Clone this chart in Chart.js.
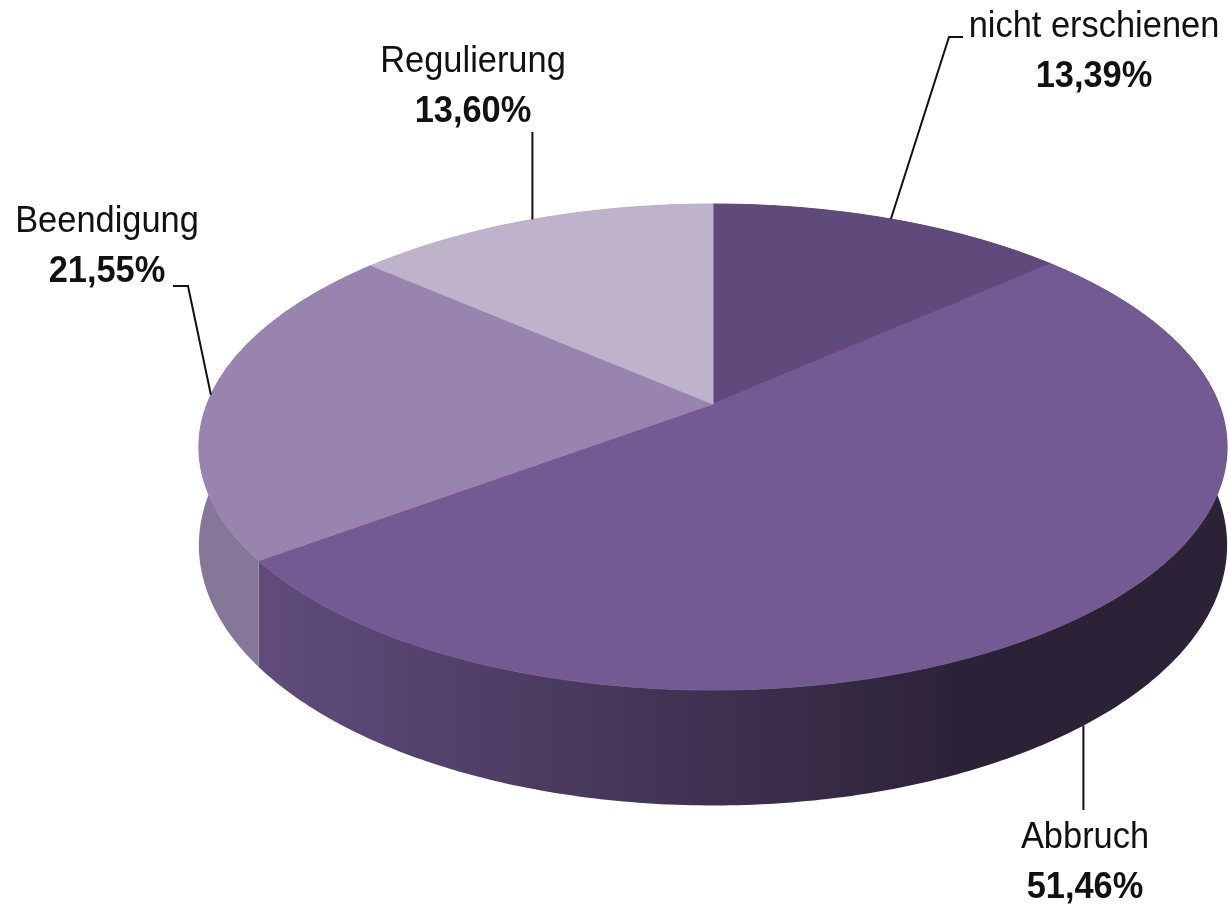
<!DOCTYPE html>
<html>
<head>
<meta charset="utf-8">
<script src="https://cdn.jsdelivr.net/npm/chart.js@4.4.1/dist/chart.umd.min.js"></script>
<style>
    html, body { margin: 0; padding: 0; background: #fff; }
    #wrap { width: 1228px; height: 906px; }
</style>
</head>
<body>
<div id="wrap"><canvas id="pieChart" width="1228" height="906"></canvas></div>
<script>
// Chart data
const categories = ['nicht erschienen', 'Abbruch', 'Beendigung', 'Regulierung'];
const shares = [13.39, 51.46, 21.55, 13.60];

// Colours: top face, side (left end / right end of the shading)
const topColors = ['#604a7b', '#745a93', '#9884ae', '#bfb3cc'];
const sideLeft = ['#4b3a61', '#614c7c', '#867799', '#9a8fab'];
const sideRight = ['#2c2238', '#2c2238', '#7c6e91', '#9a8fab'];

// Label placement: text centre x, first baseline, leader points after the anchor
const labelSpots = [
    { x: 1094, y: 37, path: [[949, 37], [963, 37]] },
    { x: 1085, y: 848, path: [[null, 810]] },
    { x: 107, y: 232, path: [[188, 286], [173, 286]] },
    { x: 473, y: 72, path: [[null, 132]] }
];

// Perspective view of the disc
const view = { cx: 713, cy: 404, radius: 506, tilt: 235.4, persp: 0.177, depth: 95 };

// theta measured from 12 o'clock, clockwise; drop 0 = top rim, 1 = bottom rim
function project(theta, drop) {
    const x = Math.sin(theta);
    const z = -Math.cos(theta);
    const den = 1 - view.persp * z;
    return [
        view.cx + view.radius * x / den,
        view.cy + (view.tilt * z + drop * view.depth) / den
    ];
}

function rimPoints(a, b, drop) {
    const steps = Math.max(8, Math.ceil((b - a) * 80));
    const pts = [];
    for (let s = 0; s <= steps; s++) {
        pts.push(project(a + (b - a) * s / steps, drop));
    }
    return pts;
}

function tracePath(ctx, pts) {
    ctx.beginPath();
    pts.forEach((p, j) => j ? ctx.lineTo(p[0], p[1]) : ctx.moveTo(p[0], p[1]));
    ctx.closePath();
}

function formatShare(v) {
    return v.toFixed(2).replace('.', ',') + '%';
}

// narrow-ish text like the original (Arial squeezed a bit)
function drawNarrowText(ctx, text, x, y, font) {
    ctx.save();
    ctx.font = font;
    ctx.translate(x, y);
    ctx.scale(0.93, 1);
    ctx.fillText(text, 0, 0);
    ctx.restore();
}

const pie3d = {
    id: 'pie3d',
    beforeDatasetsDraw(chart) {
        const ctx = chart.ctx;
        const arcs = chart.getDatasetMeta(0).data;
        ctx.save();

        // outer walls first
        arcs.forEach((arc, i) => {
            const a = arc.startAngle + Math.PI / 2;
            const b = arc.endAngle + Math.PI / 2;
            const pts = rimPoints(a, b, 0).concat(rimPoints(a, b, 1).reverse());
            const grad = ctx.createLinearGradient(262, 0, 960, 0);
            grad.addColorStop(0, sideLeft[i]);
            grad.addColorStop(1, sideRight[i]);
            tracePath(ctx, pts);
            ctx.fillStyle = grad;
            ctx.fill();
        });

        // top faces
        arcs.forEach((arc, i) => {
            const a = arc.startAngle + Math.PI / 2;
            const b = arc.endAngle + Math.PI / 2;
            const pts = [[view.cx, view.cy]].concat(rimPoints(a, b, 0));
            tracePath(ctx, pts);
            ctx.fillStyle = topColors[i];
            ctx.strokeStyle = topColors[i];
            ctx.lineWidth = 1;
            ctx.fill();
            ctx.stroke();
        });

        ctx.restore();
        return false;
    },
    afterDraw(chart) {
        const ctx = chart.ctx;
        const arcs = chart.getDatasetMeta(0).data;
        const values = chart.data.datasets[0].data;
        ctx.save();
        ctx.strokeStyle = '#111';
        ctx.lineWidth = 2;
        ctx.fillStyle = '#111';
        ctx.textAlign = 'center';
        ctx.textBaseline = 'alphabetic';

        arcs.forEach((arc, i) => {
            const mid = (arc.startAngle + arc.endAngle) / 2 + Math.PI / 2;
            const front = -Math.cos(mid) > 0.3 ? 1 : 0;
            const anchor = project(mid, front);
            const spot = labelSpots[i];

            ctx.beginPath();
            ctx.moveTo(anchor[0], anchor[1]);
            spot.path.forEach(p => ctx.lineTo(p[0] === null ? anchor[0] : p[0], p[1]));
            ctx.stroke();

            drawNarrowText(ctx, chart.data.labels[i], spot.x, spot.y,
                '37px "Liberation Sans", Arial, sans-serif');
            drawNarrowText(ctx, formatShare(values[i]), spot.x, spot.y + 50,
                'bold 37px "Liberation Sans", Arial, sans-serif');
        });
        ctx.restore();
    }
};

document.addEventListener('DOMContentLoaded', function() {
    const ctx = document.getElementById('pieChart').getContext('2d');
    new Chart(ctx, {
        type: 'pie',
        data: {
            labels: categories,
            datasets: [{
                data: shares,
                backgroundColor: topColors,
                borderWidth: 0
            }]
        },
        options: {
            responsive: false,
            animation: false,
            events: [],
            plugins: {
                legend: { display: false },
                tooltip: { enabled: false }
            }
        },
        plugins: [pie3d]
    });
});
</script>
</body>
</html>
